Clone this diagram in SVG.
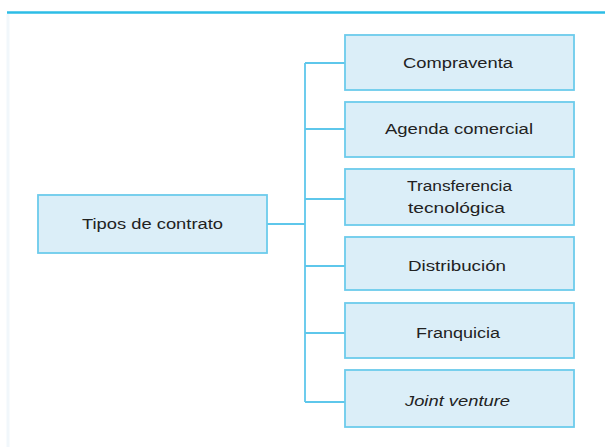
<svg xmlns="http://www.w3.org/2000/svg" width="605" height="447" viewBox="0 0 605 447">
<style>
.box{fill:#dbeef8;stroke:#6ccbec;stroke-width:1.8}
.t{font-family:"Liberation Sans",Arial,sans-serif;font-size:14px;fill:#222;text-anchor:middle}
.c{stroke:#5ec7eb;stroke-width:1.8;fill:none}
</style>
<rect width="605" height="447" fill="#fff"/>
<line x1="8" y1="14" x2="8" y2="447" stroke="#f1f7fb" stroke-width="3"/>
<line x1="7" y1="12.5" x2="605" y2="12.5" stroke="#2dbde6" stroke-width="2.5"/>
<g id="connectors">
<line class="c" x1="305" y1="63" x2="305" y2="402"/>
<line class="c" x1="267" y1="224" x2="305" y2="224"/>
<line class="c" x1="305" y1="63" x2="345" y2="63"/>
<line class="c" x1="305" y1="129" x2="345" y2="129"/>
<line class="c" x1="305" y1="199" x2="345" y2="199"/>
<line class="c" x1="305" y1="266" x2="345" y2="266"/>
<line class="c" x1="305" y1="333" x2="345" y2="333"/>
<line class="c" x1="305" y1="402" x2="345" y2="402"/>
</g>
<g id="tipos">
<rect class="box" x="38" y="195" width="229" height="58"/>
<text class="t" x="152.5" y="229" textLength="141" lengthAdjust="spacingAndGlyphs">Tipos de contrato</text>
</g>
<g id="compraventa">
<rect class="box" x="345" y="35" width="229" height="55"/>
<text class="t" x="458" y="68" textLength="110" lengthAdjust="spacingAndGlyphs">Compraventa</text>
</g>
<g id="agenda">
<rect class="box" x="345" y="102" width="229" height="55"/>
<text class="t" x="459" y="134" textLength="148" lengthAdjust="spacingAndGlyphs">Agenda comercial</text>
</g>
<g id="transferencia">
<rect class="box" x="345" y="169" width="229" height="56"/>
<text class="t" x="459.5" y="191" textLength="105" lengthAdjust="spacingAndGlyphs">Transferencia</text>
<text class="t" x="456.5" y="213" textLength="97" lengthAdjust="spacingAndGlyphs">tecnológica</text>
</g>
<g id="distribucion">
<rect class="box" x="345" y="237" width="229" height="53"/>
<text class="t" x="457" y="271" textLength="98" lengthAdjust="spacingAndGlyphs">Distribución</text>
</g>
<g id="franquicia">
<rect class="box" x="345" y="303" width="229" height="55"/>
<text class="t" x="458" y="338" textLength="84" lengthAdjust="spacingAndGlyphs">Franquicia</text>
</g>
<g id="joint">
<rect class="box" x="345" y="370" width="229" height="57"/>
<text class="t" x="457.5" y="406" font-style="italic" textLength="105" lengthAdjust="spacingAndGlyphs">Joint venture</text>
</g>
</svg>
